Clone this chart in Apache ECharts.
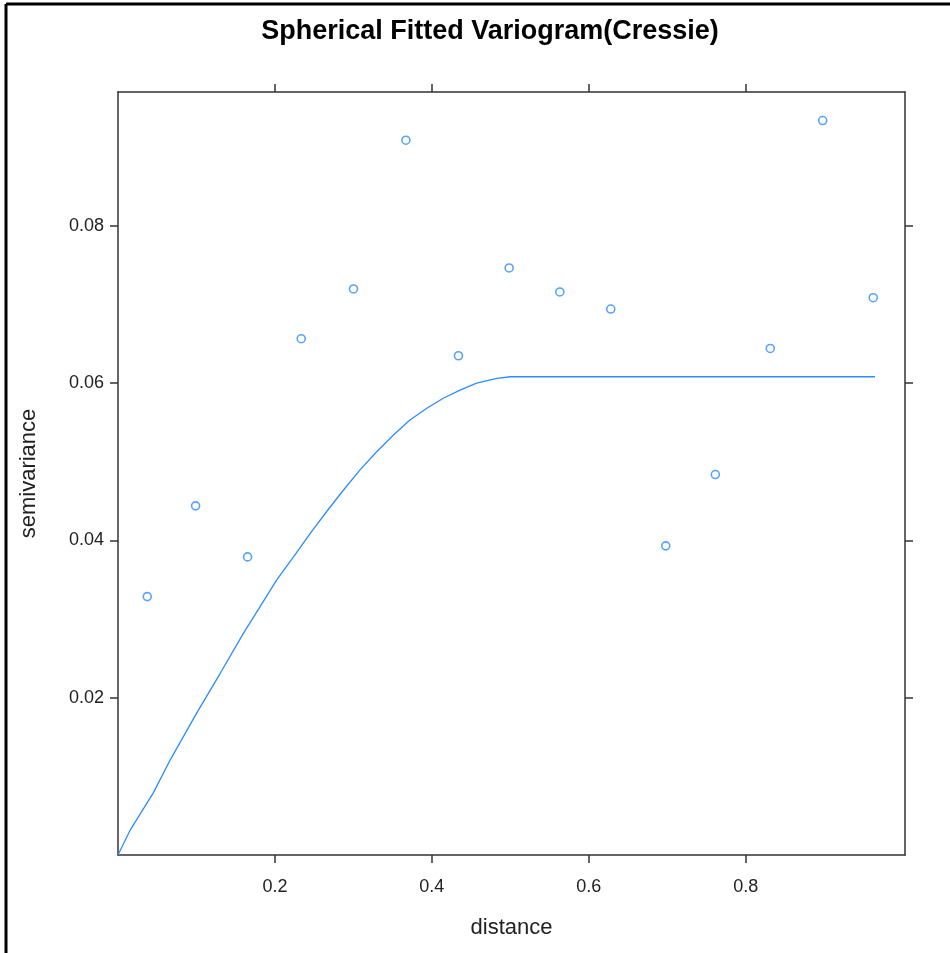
<!DOCTYPE html>
<html>
<head>
<meta charset="utf-8">
<script src="https://cdn.jsdelivr.net/npm/echarts@6/dist/echarts.min.js"></script>
<style>
  html, body { margin: 0; padding: 0; background: #fff; }
  #chart { width: 950px; height: 953px; }
</style>
</head>
<body>
<div id="chart"></div>
<script>
// empirical semivariogram (distance, semivariance)
const distances = [0.0373, 0.0989, 0.1651, 0.2335, 0.3001, 0.3669, 0.4339, 0.4985,
  0.5631, 0.6280, 0.6981, 0.7613, 0.8313, 0.8981, 0.9625];
const semivariances = [0.03285, 0.04439, 0.0379, 0.06564, 0.07196, 0.09087, 0.06347, 0.07463,
  0.07158, 0.06941, 0.0393, 0.04837, 0.0644, 0.09337, 0.07085];

// fitted spherical model
const fitDistances = [0, 0.0157, 0.045, 0.0666, 0.1006, 0.1303, 0.16, 0.1813, 0.2025, 0.2237,
  0.245, 0.2662, 0.2874, 0.3087, 0.33, 0.3511, 0.372, 0.3936, 0.415, 0.436, 0.457, 0.483,
  0.5, 0.9647];
const fitValues = [0, 0.0032, 0.0079, 0.0121, 0.0181, 0.0231, 0.0282, 0.0316, 0.035, 0.0379,
  0.0409, 0.0437, 0.0464, 0.049, 0.0513, 0.0534, 0.0553, 0.0568, 0.0581, 0.0591, 0.06, 0.0606,
  0.0608, 0.0608];

const xTicks = [0.2, 0.4, 0.6, 0.8];
const yTicks = [0.02, 0.04, 0.06, 0.08];

const blue = '#2b8cff';
const frame = '#333333';
const font = 'Liberation Sans, Arial, sans-serif';

const chart = echarts.init(document.getElementById('chart'));

const xBase = {
  type: 'value',
  min: 0,
  max: 1.003,
  splitLine: { show: false },
  axisLine: { show: true, onZero: false, lineStyle: { color: frame, width: 1.5 } },
  axisTick: { show: true, length: 8, customValues: xTicks, lineStyle: { color: frame, width: 1.5 } },
};
const yBase = {
  type: 'value',
  min: 0,
  max: 0.097,
  splitLine: { show: false },
  axisLine: { show: true, onZero: false, lineStyle: { color: frame, width: 1.5 } },
  axisTick: { show: true, length: 8, customValues: yTicks, lineStyle: { color: frame, width: 1.5 } },
};

chart.setOption({
  animation: false,
  title: {
    text: 'Spherical Fitted Variogram(Cressie)',
    left: 485,
    top: 13,
    textAlign: 'center',
    textStyle: { fontFamily: font, fontSize: 27, fontWeight: 'bold', color: '#000' },
  },
  grid: { left: 118, right: 45, top: 92, bottom: 98 },
  xAxis: [
    {
      ...xBase,
      position: 'bottom',
      name: 'distance',
      nameLocation: 'middle',
      nameGap: 62,
      nameTextStyle: { fontFamily: font, fontSize: 22, color: '#222' },
      axisLabel: {
        customValues: xTicks,
        margin: 23,
        fontFamily: font,
        fontSize: 18,
        color: '#222',
        formatter: (v) => v.toFixed(1),
      },
    },
    { ...xBase, position: 'top', axisLabel: { show: false } },
  ],
  yAxis: [
    {
      ...yBase,
      position: 'left',
      name: 'semivariance',
      nameLocation: 'middle',
      nameGap: 78,
      nameTextStyle: { fontFamily: font, fontSize: 22, color: '#222' },
      axisLabel: {
        customValues: yTicks,
        margin: 14,
        fontFamily: font,
        fontSize: 18,
        color: '#222',
        formatter: (v) => v.toFixed(2),
      },
    },
    { ...yBase, position: 'right', axisLabel: { show: false } },
  ],
  graphic: [
    { type: 'line', shape: { x1: 6, y1: 4, x2: 950, y2: 4 }, style: { stroke: '#000', lineWidth: 3 } },
    { type: 'line', shape: { x1: 6, y1: 4, x2: 6, y2: 953 }, style: { stroke: '#000', lineWidth: 3 } },
  ],
  series: [
    {
      type: 'line',
      data: fitDistances.map((d, i) => [d, fitValues[i]]),
      showSymbol: false,
      lineStyle: { color: blue, width: 1.3 },
    },
    {
      type: 'scatter',
      data: distances.map((d, i) => [d, semivariances[i]]),
      symbol: 'circle',
      symbolSize: 8,
      itemStyle: { color: '#fff', borderColor: blue, borderWidth: 1.6 },
    },
  ],
});
</script>
</body>
</html>
